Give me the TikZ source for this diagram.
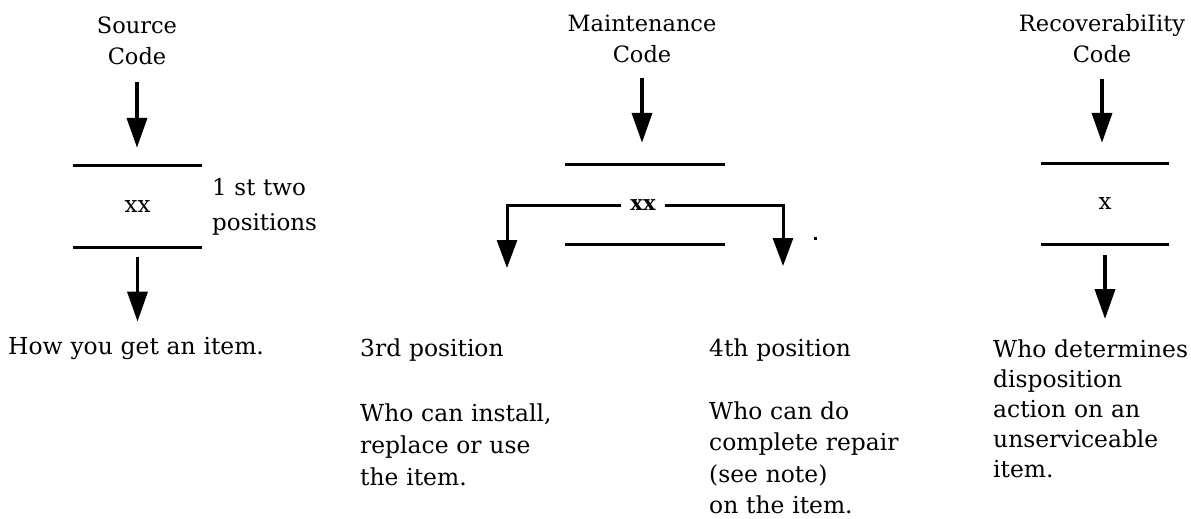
\documentclass[tikz,border=0pt]{standalone}
\usepackage{fontspec}
\setmainfont{DejaVu Serif}
\usetikzlibrary{arrows.meta}
\begin{document}
\begin{tikzpicture}[x=1pt,y=-1pt,
  txt/.style={inner sep=0pt, text width=300pt},
  hdr/.style={txt, align=center, anchor=base, font=\fontsize{22.5}{31}\selectfont},
  desc/.style={txt, align=left, anchor=base west, font=\fontsize{23.4}{32}\selectfont},
  field/.style={inner sep=0pt, minimum height=80pt, font=\fontsize{23}{28}\selectfont},
  bar/.style={line width=3.2pt},
  arr/.style={line width=3.8pt, -{Triangle[width=20pt,length=30pt]}},
  brarr/.style={line width=3pt, -{Triangle[width=20pt,length=28pt]}}]
\useasboundingbox (0,0) rectangle (1191,519);

% ---------- Source code ----------
\node[hdr] (srchead) at (137,34) {Source\\Code};
\node[field, minimum width=129pt, minimum height=81pt] (srcbox) at (137.5,206.5) {xx};
\draw[bar] (srcbox.north west) -- (srcbox.north east);
\draw[bar] (srcbox.south west) -- (srcbox.south east);
\node[desc, text width=120pt, font=\fontsize{23}{35}\selectfont] (srcpos) at (212,195) {1 st two\\positions};
\node[desc] (srcdesc) at (8,354) {How you get an item.};
\draw[arr, shorten <=16pt, shorten >=18pt] (srchead.south) -- (srchead.south |- srcbox.north);
\draw[arr, shorten <=10pt, shorten >=15pt] (srcbox.south) -- (srcbox.south |- srcdesc.north);

% ---------- Maintenance code ----------
\node[hdr] (mhead) at (642,32) {Maintenance\\Code};
\node[field, minimum width=160pt, minimum height=79pt] (mbox) at (645,204.5) {};
\draw[bar] (mbox.north west) -- (mbox.north east);
\draw[bar] (mbox.south west) -- (mbox.south east);
\node[inner xsep=9pt, inner ysep=0pt, font=\bfseries\fontsize{21}{24}\selectfont] (mxx) at (643,205) {xx};
\coordinate (mleft) at (507,268);
\coordinate (mright) at (783,266);
\draw[brarr] (mxx.west) -| (mleft);
\draw[brarr] (mxx.east) -| (mright);
\draw[arr, shorten <=14pt, shorten >=22pt] (mhead.south) -- (mhead.south |- mbox.north);
\fill (814,237) rectangle (817,239.5);
\node[desc] (m3) at (360,356) {3rd position};
\node[desc] (m3d) at (360,421) {Who can install,\\replace or use\\the item.};
\node[desc] (m4) at (709,356) {4th position};
\node[desc, font=\fontsize{23.4}{31.5}\selectfont] (m4d) at (709,419) {Who can do\\complete repair\\(see note)\\on the item.};

% ---------- Recoverability code ----------
\node[hdr] (rhead) at (1102,32) {RecoverabiIity\\Code};
\node[field, minimum width=128pt, minimum height=80pt] (rbox) at (1105,204) {x};
\draw[bar] (rbox.north west) -- (rbox.north east);
\draw[bar] (rbox.south west) -- (rbox.south east);
\node[desc, font=\fontsize{23.4}{30}\selectfont] (rdesc) at (993,357) {Who determines\\disposition\\action on an\\unserviceable\\item.};
\draw[arr, shorten <=15pt, shorten >=21pt] (rhead.south) -- (rhead.south |- rbox.north);
\draw[arr, shorten <=11pt, shorten >=20pt] (rbox.south) -- (rbox.south |- rdesc.north);
\end{tikzpicture}
\end{document}
